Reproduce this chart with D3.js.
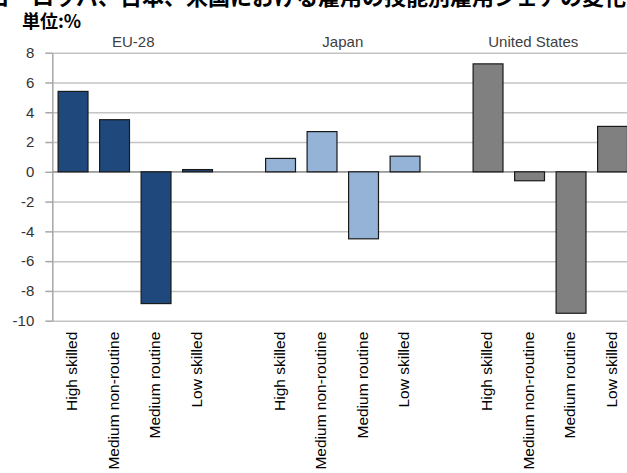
<!DOCTYPE html>
<html>
<head>
<meta charset="utf-8">
<script src="https://cdn.jsdelivr.net/npm/d3@7"></script>
<style>
  body { margin: 0; background: #fff; }
  svg { display: block; font-family: "Liberation Sans", Arial, sans-serif; }
</style>
</head>
<body>
<div id="wrapper"></div>
<script>
const headline = "ヨーロッパ、日本、米国における雇用の技能別雇用シェアの変化";
const unitLabel = "単位:%";
const groups = ["EU-28", "Japan", "United States"];
const skills = ["High skilled", "Medium non-routine", "Medium routine", "Low skilled"];
const euValues = [5.4, 3.5, -8.85, 0.15];
const japanValues = [0.9, 2.7, -4.5, 1.05];
const usValues = [7.25, -0.6, -9.5, 3.05];
const yTicks = [8, 6, 4, 2, 0, -2, -4, -6, -8, -10];
const groupColors = ["#1f497d", "#95b3d7", "#808080"];
const titleShift = [-2, 0, -17];

function buildPlot() {
    const seriesValues = [euValues, japanValues, usValues];

    // flat rows, with an empty slot after each group like the original
    const rows = [];
    const slots = [];
    groups.forEach((g, gi) => {
        skills.forEach((s, si) => {
            const key = g + "|" + s;
            slots.push(key);
            rows.push({key: key, group: g, gi: gi, skill: s, value: seriesValues[gi][si]});
        });
        if (gi < groups.length - 1) slots.push("gap" + gi);
    });

    const dimension = {
        width: 627,
        height: 473,
        margin: {top: 52.7, left: 52.3, bottom: 152.3, right: -6.3}
    };
    dimension.boundedWidth = dimension.width - dimension.margin.left - dimension.margin.right;
    dimension.boundedHeight = dimension.height - dimension.margin.top - dimension.margin.bottom;

    const svg = d3.select("#wrapper").append("svg")
        .attr("width", dimension.width)
        .attr("height", dimension.height);

    // headline, mostly cropped off at the top
    svg.append("text")
        .attr("x", -12)
        .attr("y", 5)
        .attr("font-family", "'Noto Sans CJK JP', sans-serif")
        .attr("font-size", 22)
        .attr("font-weight", "bold")
        .attr("fill", "#000")
        .text(headline);

    svg.append("text")
        .attr("x", 22)
        .attr("y", 28)
        .attr("font-family", "'Noto Sans CJK JP', sans-serif")
        .attr("font-size", 18)
        .attr("font-weight", "bold")
        .attr("fill", "#000")
        .text(unitLabel);

    const bounded = svg.append("g")
        .attr("transform", `translate(${dimension.margin.left}, ${dimension.margin.top})`);

    const xScaler = d3.scaleBand()
        .domain(slots)
        .range([0, dimension.boundedWidth])
        .paddingInner(0.28)
        .paddingOuter(0.14);

    const yScaler = d3.scaleLinear()
        .domain([-10, 8])
        .range([dimension.boundedHeight, 0]);

    // gridlines
    bounded.append("g")
        .call(d3.axisLeft(yScaler).tickValues(yTicks).tickSize(-dimension.boundedWidth).tickFormat(""))
        .call(g => g.select(".domain").remove())
        .call(g => g.selectAll("line").attr("stroke", "#c4c4c4").attr("stroke-width", 1.5));

    // y axis with ticks and labels (plain hyphen minus like the source)
    bounded.append("g")
        .call(d3.axisLeft(yScaler).tickValues(yTicks).tickSize(7).tickSizeOuter(0).tickPadding(11)
            .tickFormat(d => String(d)))
        .call(g => g.select(".domain").attr("stroke", "#a6a6a6").attr("stroke-width", 1.5))
        .call(g => g.selectAll("line").attr("stroke", "#a6a6a6").attr("stroke-width", 1.5))
        .call(g => g.selectAll("text")
            .attr("font-size", 15)
            .attr("font-family", "'Liberation Sans', Arial, sans-serif")
            .attr("fill", "#333"));

    // zero line
    bounded.append("line")
        .attr("x1", 0)
        .attr("x2", dimension.boundedWidth)
        .attr("y1", yScaler(0))
        .attr("y2", yScaler(0))
        .attr("stroke", "#9a9a9a")
        .attr("stroke-width", 1.5);

    // bars
    bounded.selectAll("rect.bar")
        .data(rows)
        .join("rect")
        .attr("class", "bar")
        .attr("x", d => xScaler(d.key))
        .attr("width", xScaler.bandwidth())
        .attr("y", d => yScaler(Math.max(0, d.value)))
        .attr("height", d => Math.abs(yScaler(d.value) - yScaler(0)))
        .attr("fill", d => groupColors[d.gi])
        .attr("stroke", "#1a1a1a")
        .attr("stroke-width", 1.2);

    // category labels, rotated
    bounded.selectAll("text.cat")
        .data(rows)
        .join("text")
        .attr("class", "cat")
        .attr("transform", d => {
            const cx = xScaler(d.key) + xScaler.bandwidth() / 2 + 4;
            return `translate(${cx}, ${dimension.boundedHeight + 11}) rotate(-90)`;
        })
        .attr("text-anchor", "end")
        .attr("font-size", 15.5)
        .attr("fill", "#000")
        .text(d => d.skill);

    // group titles
    bounded.selectAll("text.grp")
        .data(groups)
        .join("text")
        .attr("class", "grp")
        .attr("x", (g, gi) => {
            const first = xScaler(g + "|" + skills[0]);
            const last = xScaler(g + "|" + skills[skills.length - 1]) + xScaler.bandwidth();
            return (first + last) / 2 + titleShift[gi];
        })
        .attr("y", -6)
        .attr("text-anchor", "middle")
        .attr("font-size", 15)
        .attr("fill", "#404040")
        .text(g => g);
}

buildPlot();
</script>
</body>
</html>
